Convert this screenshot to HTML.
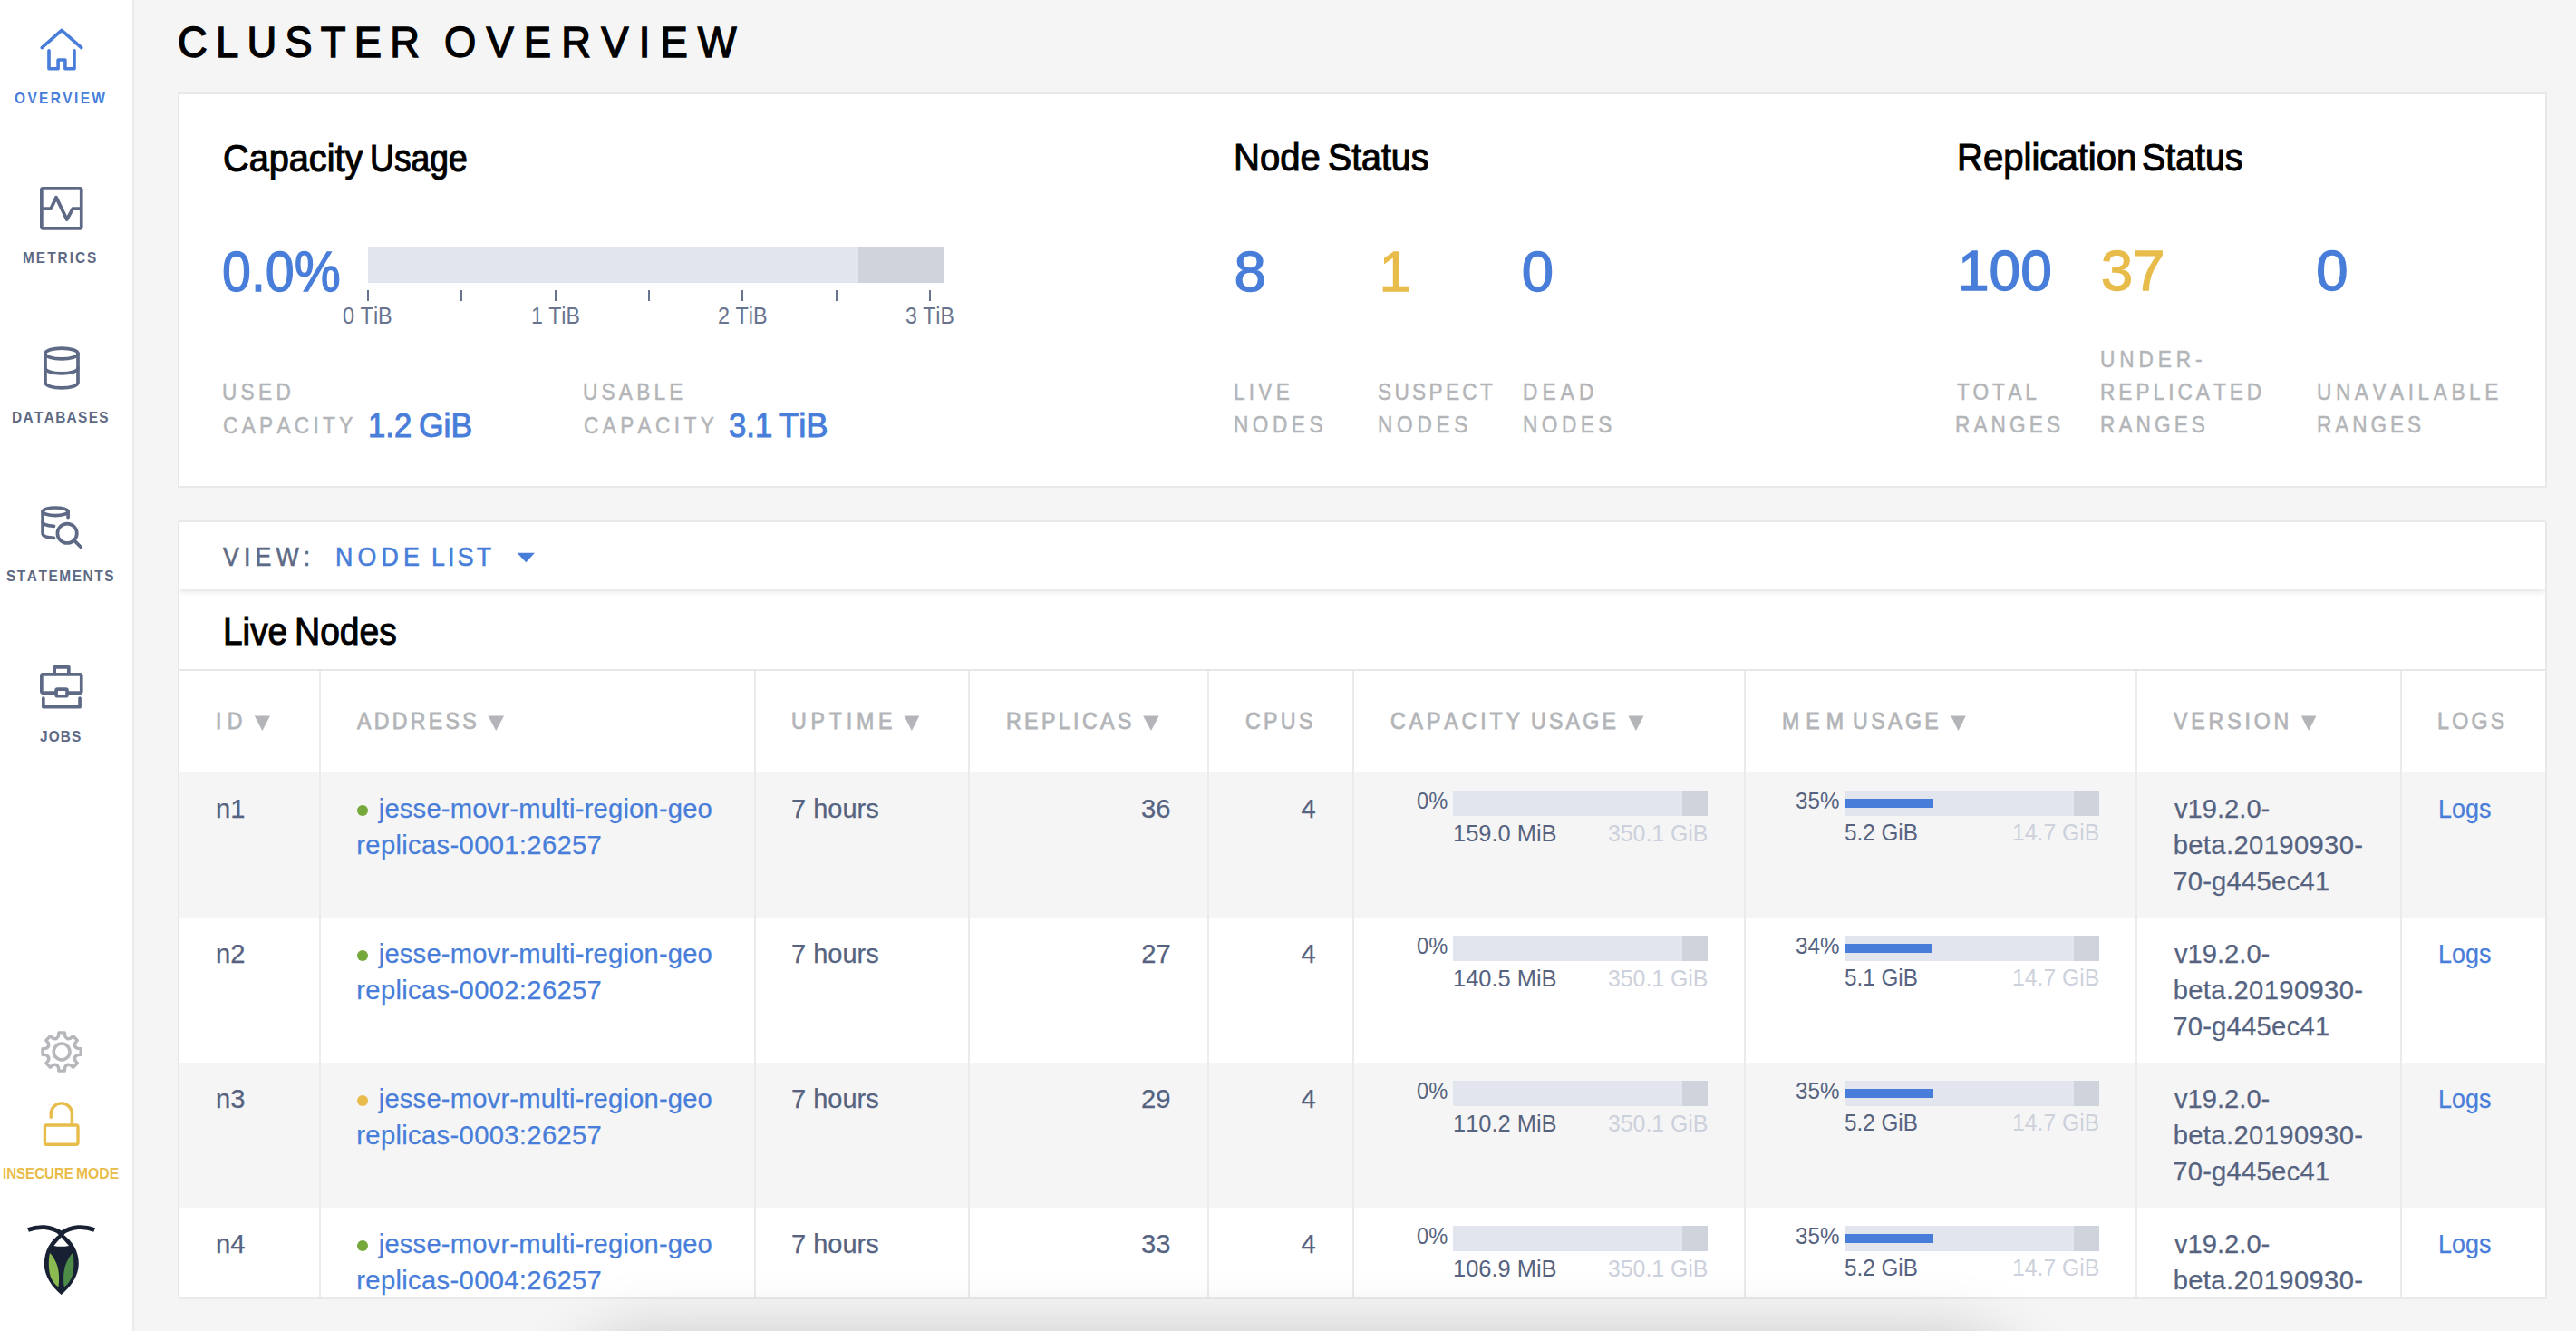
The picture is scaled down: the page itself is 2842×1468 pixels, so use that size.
<!DOCTYPE html><html><head><meta charset="utf-8"><title>Cluster Overview</title><style>
*{margin:0;padding:0;box-sizing:border-box}
html,body{width:2842px;height:1468px;overflow:hidden;background:#f5f5f5}
body{position:relative;font-family:"Liberation Sans",sans-serif;font-kerning:none;font-variant-ligatures:none}
.t{position:absolute;white-space:pre}
.r{position:absolute}
svg{position:absolute;left:0;top:0}
</style></head><body>
<div class="r" style="left:0px;top:0px;width:146px;height:1468px;background:#ffffff;"></div>
<div class="r" style="left:146px;top:0px;width:2px;height:1468px;background:#ebebeb;"></div>
<div class="r" style="left:196px;top:102px;width:2614px;height:436px;background:#fff;border:2px solid #e8e8e8"></div>
<div class="r" style="left:196px;top:574px;width:2614px;height:859px;background:#fff;border:2px solid #e8e8e8;border-radius:4px;overflow:hidden"></div>
<div class="r" style="left:198px;top:576px;width:2610px;height:160px;overflow:hidden"><div class="r" style="left:0;top:0;width:2610px;height:74px;background:#fff;box-shadow:0 2px 7px rgba(0,0,0,0.13)"></div></div>
<div class="r" style="left:198px;top:738px;width:2610px;height:2px;background:#e7e7e7;"></div>
<div class="r" style="left:198px;top:852px;width:2610px;height:160px;background:#f5f5f5;"></div>
<div class="r" style="left:198px;top:1012px;width:2610px;height:160px;background:#ffffff;"></div>
<div class="r" style="left:198px;top:1172px;width:2610px;height:160px;background:#f5f5f5;"></div>
<div class="r" style="left:198px;top:1332px;width:2610px;height:99px;background:#ffffff;"></div>
<div class="r" style="left:352px;top:740px;width:2px;height:691px;background:#ebebeb;"></div>
<div class="r" style="left:832px;top:740px;width:2px;height:691px;background:#ebebeb;"></div>
<div class="r" style="left:1068px;top:740px;width:2px;height:691px;background:#ebebeb;"></div>
<div class="r" style="left:1332px;top:740px;width:2px;height:691px;background:#ebebeb;"></div>
<div class="r" style="left:1492px;top:740px;width:2px;height:691px;background:#ebebeb;"></div>
<div class="r" style="left:1924px;top:740px;width:2px;height:691px;background:#ebebeb;"></div>
<div class="r" style="left:2356px;top:740px;width:2px;height:691px;background:#ebebeb;"></div>
<div class="r" style="left:2648px;top:740px;width:2px;height:691px;background:#ebebeb;"></div>
<div class="t" style="left:15.97px;top:98.20px;font-size:17.15px;line-height:21px;letter-spacing:2.659px;color:#487ed9;font-weight:700;transform:scaleX(0.9000);transform-origin:0 0;">OVERVIEW</div>
<div class="t" style="left:25.37px;top:273.50px;font-size:17.15px;line-height:21px;letter-spacing:2.217px;color:#5e6a85;font-weight:700;transform:scaleX(0.9000);transform-origin:0 0;">METRICS</div>
<div class="t" style="left:12.97px;top:449.50px;font-size:17.15px;line-height:21px;letter-spacing:1.470px;color:#5e6a85;font-weight:700;transform:scaleX(0.9000);transform-origin:0 0;">DATABASES</div>
<div class="t" style="left:6.86px;top:625.30px;font-size:17.15px;line-height:21px;letter-spacing:1.719px;color:#5e6a85;font-weight:700;transform:scaleX(0.9000);transform-origin:0 0;">STATEMENTS</div>
<div class="t" style="left:43.57px;top:801.50px;font-size:17.15px;line-height:21px;letter-spacing:1.260px;color:#5e6a85;font-weight:700;transform:scaleX(0.9000);transform-origin:0 0;">JOBS</div>
<div class="t" style="left:2.59px;top:1285.00px;font-size:15.99px;line-height:20px;letter-spacing:0.000px;color:#e8bc4a;font-weight:700;transform:scaleX(0.9428);transform-origin:0 0;">INSECURE</div>
<div class="t" style="left:84.25px;top:1285.00px;font-size:15.99px;line-height:20px;letter-spacing:0.000px;color:#e8bc4a;font-weight:700;transform:scaleX(0.9833);transform-origin:0 0;">MODE</div>
<div class="t" style="left:195.79px;top:17.40px;font-size:48.84px;line-height:59px;letter-spacing:9.861px;color:#000;-webkit-text-stroke:1.4px #000;transform:scaleX(0.9300);transform-origin:0 0;">CLUSTER</div>
<div class="t" style="left:490.45px;top:17.40px;font-size:48.84px;line-height:59px;letter-spacing:11.969px;color:#000;-webkit-text-stroke:1.4px #000;transform:scaleX(0.9300);transform-origin:0 0;">OVERVIEW</div>
<div class="t" style="left:245.73px;top:148.65px;font-size:42.00px;line-height:51px;letter-spacing:0.000px;color:#000;-webkit-text-stroke:1.1px #000;transform:scaleX(0.9448);transform-origin:0 0;">Capacity</div>
<div class="t" style="left:407.97px;top:148.65px;font-size:42.00px;line-height:51px;letter-spacing:0.000px;color:#000;-webkit-text-stroke:1.1px #000;transform:scaleX(0.8882);transform-origin:0 0;">Usage</div>
<div class="t" style="left:1361.27px;top:148.35px;font-size:42.00px;line-height:51px;letter-spacing:0.000px;color:#000;-webkit-text-stroke:1.1px #000;transform:scaleX(0.9527);transform-origin:0 0;">Node</div>
<div class="t" style="left:1464.97px;top:148.35px;font-size:42.00px;line-height:51px;letter-spacing:0.000px;color:#000;-webkit-text-stroke:1.1px #000;transform:scaleX(0.9348);transform-origin:0 0;">Status</div>
<div class="t" style="left:2158.56px;top:148.45px;font-size:42.00px;line-height:51px;letter-spacing:0.000px;color:#000;-webkit-text-stroke:1.1px #000;transform:scaleX(0.9543);transform-origin:0 0;">Replication</div>
<div class="t" style="left:2363.27px;top:148.45px;font-size:42.00px;line-height:51px;letter-spacing:0.000px;color:#000;-webkit-text-stroke:1.1px #000;transform:scaleX(0.9356);transform-origin:0 0;">Status</div>
<div class="t" style="left:244.81px;top:259.85px;font-size:63.52px;line-height:77px;letter-spacing:0.000px;color:#487ed9;-webkit-text-stroke:1.3px #487ed9;transform:scaleX(0.9034);transform-origin:0 0;">0.0%</div>
<div class="t" style="left:1361.49px;top:259.65px;font-size:63.52px;line-height:77px;letter-spacing:0.000px;color:#487ed9;-webkit-text-stroke:1.3px #487ed9;">8</div>
<div class="t" style="left:1521.41px;top:259.65px;font-size:63.52px;line-height:77px;letter-spacing:0.000px;color:#e8bc4a;-webkit-text-stroke:1.3px #e8bc4a;">1</div>
<div class="t" style="left:1678.87px;top:259.65px;font-size:63.52px;line-height:77px;letter-spacing:0.000px;color:#487ed9;-webkit-text-stroke:1.3px #487ed9;">0</div>
<div class="t" style="left:2159.51px;top:259.45px;font-size:63.52px;line-height:77px;letter-spacing:0.000px;color:#487ed9;-webkit-text-stroke:1.3px #487ed9;transform:scaleX(0.9802);transform-origin:0 0;">100</div>
<div class="t" style="left:2318.04px;top:259.45px;font-size:63.52px;line-height:77px;letter-spacing:0.000px;color:#e8bc4a;-webkit-text-stroke:1.3px #e8bc4a;transform:scaleX(0.9948);transform-origin:0 0;">37</div>
<div class="t" style="left:2555.37px;top:259.45px;font-size:63.52px;line-height:77px;letter-spacing:0.000px;color:#487ed9;-webkit-text-stroke:1.3px #487ed9;">0</div>
<div class="t" style="left:245.30px;top:417.35px;font-size:25.15px;line-height:31px;letter-spacing:4.760px;color:#b3b5b8;-webkit-text-stroke:0.5px #b3b5b8;transform:scaleX(0.9000);transform-origin:0 0;">USED</div>
<div class="t" style="left:245.90px;top:453.55px;font-size:25.15px;line-height:31px;letter-spacing:4.773px;color:#b3b5b8;-webkit-text-stroke:0.5px #b3b5b8;transform:scaleX(0.9000);transform-origin:0 0;">CAPACITY</div>
<div class="t" style="left:406.36px;top:446.60px;font-size:37.06px;line-height:45px;letter-spacing:0.000px;color:#487ed9;-webkit-text-stroke:1.0px #487ed9;transform:scaleX(0.9352);transform-origin:0 0;">1.2</div>
<div class="t" style="left:461.52px;top:446.60px;font-size:37.06px;line-height:45px;letter-spacing:0.000px;color:#487ed9;-webkit-text-stroke:1.0px #487ed9;transform:scaleX(0.9574);transform-origin:0 0;">GiB</div>
<div class="t" style="left:643.40px;top:417.35px;font-size:25.15px;line-height:31px;letter-spacing:4.669px;color:#b3b5b8;-webkit-text-stroke:0.5px #b3b5b8;transform:scaleX(0.9000);transform-origin:0 0;">USABLE</div>
<div class="t" style="left:644.00px;top:453.55px;font-size:25.15px;line-height:31px;letter-spacing:4.852px;color:#b3b5b8;-webkit-text-stroke:0.5px #b3b5b8;transform:scaleX(0.9000);transform-origin:0 0;">CAPACITY</div>
<div class="t" style="left:804.38px;top:446.60px;font-size:37.06px;line-height:45px;letter-spacing:0.000px;color:#487ed9;-webkit-text-stroke:1.0px #487ed9;transform:scaleX(0.9358);transform-origin:0 0;">3.1</div>
<div class="t" style="left:859.28px;top:446.60px;font-size:37.06px;line-height:45px;letter-spacing:0.000px;color:#487ed9;-webkit-text-stroke:1.0px #487ed9;transform:scaleX(0.9828);transform-origin:0 0;">TiB</div>
<div class="t" style="left:1361.49px;top:417.25px;font-size:25.15px;line-height:31px;letter-spacing:4.691px;color:#b3b5b8;-webkit-text-stroke:0.5px #b3b5b8;transform:scaleX(0.9000);transform-origin:0 0;">LIVE</div>
<div class="t" style="left:1361.49px;top:453.25px;font-size:25.15px;line-height:31px;letter-spacing:5.005px;color:#b3b5b8;-webkit-text-stroke:0.5px #b3b5b8;transform:scaleX(0.9000);transform-origin:0 0;">NODES</div>
<div class="t" style="left:1520.42px;top:417.25px;font-size:25.15px;line-height:31px;letter-spacing:3.696px;color:#b3b5b8;-webkit-text-stroke:0.5px #b3b5b8;transform:scaleX(0.9000);transform-origin:0 0;">SUSPECT</div>
<div class="t" style="left:1519.59px;top:453.25px;font-size:25.15px;line-height:31px;letter-spacing:5.255px;color:#b3b5b8;-webkit-text-stroke:0.5px #b3b5b8;transform:scaleX(0.9000);transform-origin:0 0;">NODES</div>
<div class="t" style="left:1680.39px;top:417.25px;font-size:25.15px;line-height:31px;letter-spacing:5.764px;color:#b3b5b8;-webkit-text-stroke:0.5px #b3b5b8;transform:scaleX(0.9000);transform-origin:0 0;">DEAD</div>
<div class="t" style="left:1680.39px;top:453.25px;font-size:25.15px;line-height:31px;letter-spacing:4.977px;color:#b3b5b8;-webkit-text-stroke:0.5px #b3b5b8;transform:scaleX(0.9000);transform-origin:0 0;">NODES</div>
<div class="t" style="left:2158.54px;top:417.25px;font-size:25.15px;line-height:31px;letter-spacing:4.147px;color:#b3b5b8;-webkit-text-stroke:0.5px #b3b5b8;transform:scaleX(0.9000);transform-origin:0 0;">TOTAL</div>
<div class="t" style="left:2157.19px;top:453.25px;font-size:25.15px;line-height:31px;letter-spacing:4.538px;color:#b3b5b8;-webkit-text-stroke:0.5px #b3b5b8;transform:scaleX(0.9000);transform-origin:0 0;">RANGES</div>
<div class="t" style="left:2317.10px;top:381.35px;font-size:25.15px;line-height:31px;letter-spacing:5.433px;color:#b3b5b8;-webkit-text-stroke:0.5px #b3b5b8;transform:scaleX(0.9000);transform-origin:0 0;">UNDER-</div>
<div class="t" style="left:2316.99px;top:417.25px;font-size:25.15px;line-height:31px;letter-spacing:4.461px;color:#b3b5b8;-webkit-text-stroke:0.5px #b3b5b8;transform:scaleX(0.9000);transform-origin:0 0;">REPLICATED</div>
<div class="t" style="left:2316.99px;top:453.25px;font-size:25.15px;line-height:31px;letter-spacing:4.516px;color:#b3b5b8;-webkit-text-stroke:0.5px #b3b5b8;transform:scaleX(0.9000);transform-origin:0 0;">RANGES</div>
<div class="t" style="left:2556.00px;top:417.25px;font-size:25.15px;line-height:31px;letter-spacing:5.067px;color:#b3b5b8;-webkit-text-stroke:0.5px #b3b5b8;transform:scaleX(0.9000);transform-origin:0 0;">UNAVAILABLE</div>
<div class="t" style="left:2555.89px;top:453.25px;font-size:25.15px;line-height:31px;letter-spacing:4.360px;color:#b3b5b8;-webkit-text-stroke:0.5px #b3b5b8;transform:scaleX(0.9000);transform-origin:0 0;">RANGES</div>
<div class="r" style="left:406px;top:272px;width:541px;height:40px;background:#e2e5ee;"></div>
<div class="r" style="left:947px;top:272px;width:95px;height:40px;background:#cfd3dc;"></div>
<div class="r" style="left:405.0px;top:320px;width:2px;height:12px;background:#68738f"></div>
<div class="r" style="left:508.3px;top:320px;width:2px;height:12px;background:#68738f"></div>
<div class="r" style="left:611.6px;top:320px;width:2px;height:12px;background:#68738f"></div>
<div class="r" style="left:715.0px;top:320px;width:2px;height:12px;background:#68738f"></div>
<div class="r" style="left:818.2px;top:320px;width:2px;height:12px;background:#68738f"></div>
<div class="r" style="left:921.5px;top:320px;width:2px;height:12px;background:#68738f"></div>
<div class="r" style="left:1024.8px;top:320px;width:2px;height:12px;background:#68738f"></div>
<div class="t" style="left:378.28px;top:332.60px;font-size:25.58px;line-height:31px;letter-spacing:0.000px;color:#68738f;transform:scaleX(0.9170);transform-origin:0 0;">0 TiB</div>
<div class="t" style="left:585.64px;top:332.60px;font-size:25.58px;line-height:31px;letter-spacing:0.000px;color:#68738f;transform:scaleX(0.9023);transform-origin:0 0;">1 TiB</div>
<div class="t" style="left:791.82px;top:332.60px;font-size:25.58px;line-height:31px;letter-spacing:0.000px;color:#68738f;transform:scaleX(0.9147);transform-origin:0 0;">2 TiB</div>
<div class="t" style="left:999.22px;top:332.60px;font-size:25.58px;line-height:31px;letter-spacing:0.000px;color:#68738f;transform:scaleX(0.9027);transform-origin:0 0;">3 TiB</div>
<div class="t" style="left:246.08px;top:596.50px;font-size:29.07px;line-height:35px;letter-spacing:5.565px;color:#5e6a85;-webkit-text-stroke:0.6px #5e6a85;transform:scaleX(0.9200);transform-origin:0 0;">VIEW:</div>
<div class="t" style="left:369.81px;top:596.50px;font-size:29.07px;line-height:35px;letter-spacing:5.607px;color:#487ed9;-webkit-text-stroke:0.6px #487ed9;transform:scaleX(0.9200);transform-origin:0 0;">NODE</div>
<div class="t" style="left:475.51px;top:596.50px;font-size:29.07px;line-height:35px;letter-spacing:3.452px;color:#487ed9;-webkit-text-stroke:0.6px #487ed9;transform:scaleX(0.9200);transform-origin:0 0;">LIST</div>
<svg width="2842" height="1468" style="pointer-events:none"><path d="M570.5,609.8H590L580.25,620.3Z" fill="#487ed9"/></svg>
<div class="t" style="left:245.87px;top:670.55px;font-size:42.00px;line-height:51px;letter-spacing:0.000px;color:#000;-webkit-text-stroke:1.1px #000;transform:scaleX(0.9228);transform-origin:0 0;">Live</div>
<div class="t" style="left:325.35px;top:670.55px;font-size:42.00px;line-height:51px;letter-spacing:0.000px;color:#000;-webkit-text-stroke:1.1px #000;transform:scaleX(0.9283);transform-origin:0 0;">Nodes</div>
<div class="t" style="left:238.06px;top:779.70px;font-size:25.73px;line-height:31px;letter-spacing:7.101px;color:#b3b5b8;-webkit-text-stroke:0.8px #b3b5b8;transform:scaleX(0.9000);transform-origin:0 0;">ID</div>
<div class="t" style="left:393.85px;top:779.70px;font-size:25.73px;line-height:31px;letter-spacing:3.680px;color:#b3b5b8;-webkit-text-stroke:0.8px #b3b5b8;transform:scaleX(0.9000);transform-origin:0 0;">ADDRESS</div>
<div class="t" style="left:873.11px;top:779.70px;font-size:25.73px;line-height:31px;letter-spacing:5.335px;color:#b3b5b8;-webkit-text-stroke:0.8px #b3b5b8;transform:scaleX(0.9000);transform-origin:0 0;">UPTIME</div>
<div class="t" style="left:1109.50px;top:779.70px;font-size:25.73px;line-height:31px;letter-spacing:3.783px;color:#b3b5b8;-webkit-text-stroke:0.8px #b3b5b8;transform:scaleX(0.9000);transform-origin:0 0;">REPLICAS</div>
<div class="t" style="left:1373.92px;top:779.70px;font-size:25.73px;line-height:31px;letter-spacing:3.707px;color:#b3b5b8;-webkit-text-stroke:0.8px #b3b5b8;transform:scaleX(0.9000);transform-origin:0 0;">CPUS</div>
<div class="t" style="left:1533.52px;top:779.70px;font-size:25.73px;line-height:31px;letter-spacing:4.316px;color:#b3b5b8;-webkit-text-stroke:0.8px #b3b5b8;transform:scaleX(0.9000);transform-origin:0 0;">CAPACITY</div>
<div class="t" style="left:1689.01px;top:779.70px;font-size:25.73px;line-height:31px;letter-spacing:3.589px;color:#b3b5b8;-webkit-text-stroke:0.8px #b3b5b8;transform:scaleX(0.9000);transform-origin:0 0;">USAGE</div>
<div class="t" style="left:1965.50px;top:779.70px;font-size:25.73px;line-height:31px;letter-spacing:7.767px;color:#b3b5b8;-webkit-text-stroke:0.8px #b3b5b8;transform:scaleX(0.9000);transform-origin:0 0;">MEM</div>
<div class="t" style="left:2044.21px;top:779.70px;font-size:25.73px;line-height:31px;letter-spacing:3.811px;color:#b3b5b8;-webkit-text-stroke:0.8px #b3b5b8;transform:scaleX(0.9000);transform-origin:0 0;">USAGE</div>
<div class="t" style="left:2398.40px;top:779.70px;font-size:25.73px;line-height:31px;letter-spacing:4.273px;color:#b3b5b8;-webkit-text-stroke:0.8px #b3b5b8;transform:scaleX(0.9000);transform-origin:0 0;">VERSION</div>
<div class="t" style="left:2689.30px;top:779.70px;font-size:25.73px;line-height:31px;letter-spacing:3.675px;color:#b3b5b8;-webkit-text-stroke:0.8px #b3b5b8;transform:scaleX(0.9000);transform-origin:0 0;">LOGS</div>
<svg width="2842" height="1468"><path d="M280.8,789.4H298L289.40,806ZM538.5,789.4H556L547.25,806ZM997.5,789.4H1014.3L1005.90,806ZM1261.2,789.4H1278.7L1269.95,806ZM1796.4,789.4H1813.4L1804.90,806ZM2152.3,789.4H2168.8L2160.55,806ZM2538.8,789.4H2555.4L2547.10,806Z" fill="#b3b5b8"/></svg>
<div class="t" style="left:238.09px;top:873.88px;font-size:29.20px;line-height:36px;letter-spacing:0.000px;color:#566380;-webkit-text-stroke:0.25px #566380;">n1</div>
<div class="r" style="left:394px;top:887.6px;width:12px;height:12px;border-radius:50%;background:#76a83b"></div>
<div class="t" style="left:417.74px;top:873.88px;font-size:29.20px;line-height:36px;letter-spacing:0.184px;color:#487ed9;-webkit-text-stroke:0.25px #487ed9;">jesse-movr-multi-region-geo</div>
<div class="t" style="left:393.29px;top:913.88px;font-size:29.20px;line-height:36px;letter-spacing:0.336px;color:#487ed9;-webkit-text-stroke:0.25px #487ed9;">replicas-0001:26257</div>
<div class="t" style="left:873.14px;top:873.88px;font-size:29.20px;line-height:36px;letter-spacing:0.000px;color:#566380;-webkit-text-stroke:0.25px #566380;transform:scaleX(0.9927);transform-origin:0 0;">7 hours</div>
<div class="t" style="left:1258.98px;top:873.88px;font-size:29.20px;line-height:36px;letter-spacing:0.000px;color:#566380;-webkit-text-stroke:0.25px #566380;">36</div>
<div class="t" style="left:1435.39px;top:873.88px;font-size:29.20px;line-height:36px;letter-spacing:0.000px;color:#566380;-webkit-text-stroke:0.25px #566380;">4</div>
<div class="t" style="left:1562.58px;top:867.00px;font-size:25.90px;line-height:32px;letter-spacing:0.000px;color:#566380;transform:scaleX(0.9127);transform-origin:0 0;">0%</div>
<div class="r" style="left:1603px;top:872px;width:253px;height:28px;background:#e2e5ee;"></div>
<div class="r" style="left:1856px;top:872px;width:28px;height:28px;background:#cfd3dc;"></div>
<div class="t" style="left:1602.66px;top:902.80px;font-size:25.90px;line-height:32px;letter-spacing:0.000px;color:#566380;transform:scaleX(0.9830);transform-origin:0 0;">159.0 MiB</div>
<div class="t" style="left:1773.85px;top:902.80px;font-size:25.90px;line-height:32px;letter-spacing:0.000px;color:#cdd1dc;transform:scaleX(0.9589);transform-origin:0 0;">350.1 GiB</div>
<div class="t" style="left:1980.58px;top:867.00px;font-size:25.90px;line-height:32px;letter-spacing:0.000px;color:#566380;transform:scaleX(0.9333);transform-origin:0 0;">35%</div>
<div class="r" style="left:2035px;top:872px;width:253px;height:28px;background:#e2e5ee;"></div>
<div class="r" style="left:2288px;top:872px;width:28px;height:28px;background:#cfd3dc;"></div>
<div class="r" style="left:2035px;top:881px;width:98px;height:10px;background:#487ed9;"></div>
<div class="t" style="left:2034.93px;top:902.30px;font-size:25.90px;line-height:32px;letter-spacing:0.000px;color:#566380;transform:scaleX(0.9360);transform-origin:0 0;">5.2 GiB</div>
<div class="t" style="left:2220.31px;top:902.30px;font-size:25.90px;line-height:32px;letter-spacing:0.000px;color:#cdd1dc;transform:scaleX(0.9565);transform-origin:0 0;">14.7 GiB</div>
<div class="t" style="left:2398.53px;top:873.88px;font-size:29.20px;line-height:36px;letter-spacing:0.000px;color:#566380;-webkit-text-stroke:0.25px #566380;transform:scaleX(0.9985);transform-origin:0 0;">v19.2.0-</div>
<div class="t" style="left:2397.64px;top:913.88px;font-size:29.20px;line-height:36px;letter-spacing:0.380px;color:#566380;-webkit-text-stroke:0.25px #566380;">beta.20190930-</div>
<div class="t" style="left:2397.13px;top:953.88px;font-size:29.20px;line-height:36px;letter-spacing:0.269px;color:#566380;-webkit-text-stroke:0.25px #566380;">70-g445ec41</div>
<div class="t" style="left:2689.71px;top:873.88px;font-size:29.20px;line-height:36px;letter-spacing:0.000px;color:#487ed9;-webkit-text-stroke:0.25px #487ed9;transform:scaleX(0.9229);transform-origin:0 0;">Logs</div>
<div class="t" style="left:238.09px;top:1033.88px;font-size:29.20px;line-height:36px;letter-spacing:0.000px;color:#566380;-webkit-text-stroke:0.25px #566380;">n2</div>
<div class="r" style="left:394px;top:1047.6px;width:12px;height:12px;border-radius:50%;background:#76a83b"></div>
<div class="t" style="left:417.74px;top:1033.88px;font-size:29.20px;line-height:36px;letter-spacing:0.184px;color:#487ed9;-webkit-text-stroke:0.25px #487ed9;">jesse-movr-multi-region-geo</div>
<div class="t" style="left:393.29px;top:1073.88px;font-size:29.20px;line-height:36px;letter-spacing:0.336px;color:#487ed9;-webkit-text-stroke:0.25px #487ed9;">replicas-0002:26257</div>
<div class="t" style="left:873.14px;top:1033.88px;font-size:29.20px;line-height:36px;letter-spacing:0.000px;color:#566380;-webkit-text-stroke:0.25px #566380;transform:scaleX(0.9927);transform-origin:0 0;">7 hours</div>
<div class="t" style="left:1259.16px;top:1033.88px;font-size:29.20px;line-height:36px;letter-spacing:0.000px;color:#566380;-webkit-text-stroke:0.25px #566380;">27</div>
<div class="t" style="left:1435.39px;top:1033.88px;font-size:29.20px;line-height:36px;letter-spacing:0.000px;color:#566380;-webkit-text-stroke:0.25px #566380;">4</div>
<div class="t" style="left:1562.58px;top:1027.00px;font-size:25.90px;line-height:32px;letter-spacing:0.000px;color:#566380;transform:scaleX(0.9127);transform-origin:0 0;">0%</div>
<div class="r" style="left:1603px;top:1032px;width:253px;height:28px;background:#e2e5ee;"></div>
<div class="r" style="left:1856px;top:1032px;width:28px;height:28px;background:#cfd3dc;"></div>
<div class="t" style="left:1602.66px;top:1062.80px;font-size:25.90px;line-height:32px;letter-spacing:0.000px;color:#566380;transform:scaleX(0.9830);transform-origin:0 0;">140.5 MiB</div>
<div class="t" style="left:1773.85px;top:1062.80px;font-size:25.90px;line-height:32px;letter-spacing:0.000px;color:#cdd1dc;transform:scaleX(0.9589);transform-origin:0 0;">350.1 GiB</div>
<div class="t" style="left:1980.58px;top:1027.00px;font-size:25.90px;line-height:32px;letter-spacing:0.000px;color:#566380;transform:scaleX(0.9333);transform-origin:0 0;">34%</div>
<div class="r" style="left:2035px;top:1032px;width:253px;height:28px;background:#e2e5ee;"></div>
<div class="r" style="left:2288px;top:1032px;width:28px;height:28px;background:#cfd3dc;"></div>
<div class="r" style="left:2035px;top:1041px;width:96px;height:10px;background:#487ed9;"></div>
<div class="t" style="left:2034.93px;top:1062.30px;font-size:25.90px;line-height:32px;letter-spacing:0.000px;color:#566380;transform:scaleX(0.9360);transform-origin:0 0;">5.1 GiB</div>
<div class="t" style="left:2220.31px;top:1062.30px;font-size:25.90px;line-height:32px;letter-spacing:0.000px;color:#cdd1dc;transform:scaleX(0.9565);transform-origin:0 0;">14.7 GiB</div>
<div class="t" style="left:2398.53px;top:1033.88px;font-size:29.20px;line-height:36px;letter-spacing:0.000px;color:#566380;-webkit-text-stroke:0.25px #566380;transform:scaleX(0.9985);transform-origin:0 0;">v19.2.0-</div>
<div class="t" style="left:2397.64px;top:1073.88px;font-size:29.20px;line-height:36px;letter-spacing:0.380px;color:#566380;-webkit-text-stroke:0.25px #566380;">beta.20190930-</div>
<div class="t" style="left:2397.13px;top:1113.88px;font-size:29.20px;line-height:36px;letter-spacing:0.269px;color:#566380;-webkit-text-stroke:0.25px #566380;">70-g445ec41</div>
<div class="t" style="left:2689.71px;top:1033.88px;font-size:29.20px;line-height:36px;letter-spacing:0.000px;color:#487ed9;-webkit-text-stroke:0.25px #487ed9;transform:scaleX(0.9229);transform-origin:0 0;">Logs</div>
<div class="t" style="left:238.09px;top:1193.88px;font-size:29.20px;line-height:36px;letter-spacing:0.000px;color:#566380;-webkit-text-stroke:0.25px #566380;">n3</div>
<div class="r" style="left:394px;top:1207.6px;width:12px;height:12px;border-radius:50%;background:#e8bc4a"></div>
<div class="t" style="left:417.74px;top:1193.88px;font-size:29.20px;line-height:36px;letter-spacing:0.184px;color:#487ed9;-webkit-text-stroke:0.25px #487ed9;">jesse-movr-multi-region-geo</div>
<div class="t" style="left:393.29px;top:1233.88px;font-size:29.20px;line-height:36px;letter-spacing:0.336px;color:#487ed9;-webkit-text-stroke:0.25px #487ed9;">replicas-0003:26257</div>
<div class="t" style="left:873.14px;top:1193.88px;font-size:29.20px;line-height:36px;letter-spacing:0.000px;color:#566380;-webkit-text-stroke:0.25px #566380;transform:scaleX(0.9927);transform-origin:0 0;">7 hours</div>
<div class="t" style="left:1259.08px;top:1193.88px;font-size:29.20px;line-height:36px;letter-spacing:0.000px;color:#566380;-webkit-text-stroke:0.25px #566380;">29</div>
<div class="t" style="left:1435.39px;top:1193.88px;font-size:29.20px;line-height:36px;letter-spacing:0.000px;color:#566380;-webkit-text-stroke:0.25px #566380;">4</div>
<div class="t" style="left:1562.58px;top:1187.00px;font-size:25.90px;line-height:32px;letter-spacing:0.000px;color:#566380;transform:scaleX(0.9127);transform-origin:0 0;">0%</div>
<div class="r" style="left:1603px;top:1192px;width:253px;height:28px;background:#e2e5ee;"></div>
<div class="r" style="left:1856px;top:1192px;width:28px;height:28px;background:#cfd3dc;"></div>
<div class="t" style="left:1602.66px;top:1222.80px;font-size:25.90px;line-height:32px;letter-spacing:0.000px;color:#566380;transform:scaleX(0.9830);transform-origin:0 0;">110.2 MiB</div>
<div class="t" style="left:1773.85px;top:1222.80px;font-size:25.90px;line-height:32px;letter-spacing:0.000px;color:#cdd1dc;transform:scaleX(0.9589);transform-origin:0 0;">350.1 GiB</div>
<div class="t" style="left:1980.58px;top:1187.00px;font-size:25.90px;line-height:32px;letter-spacing:0.000px;color:#566380;transform:scaleX(0.9333);transform-origin:0 0;">35%</div>
<div class="r" style="left:2035px;top:1192px;width:253px;height:28px;background:#e2e5ee;"></div>
<div class="r" style="left:2288px;top:1192px;width:28px;height:28px;background:#cfd3dc;"></div>
<div class="r" style="left:2035px;top:1201px;width:98px;height:10px;background:#487ed9;"></div>
<div class="t" style="left:2034.93px;top:1222.30px;font-size:25.90px;line-height:32px;letter-spacing:0.000px;color:#566380;transform:scaleX(0.9360);transform-origin:0 0;">5.2 GiB</div>
<div class="t" style="left:2220.31px;top:1222.30px;font-size:25.90px;line-height:32px;letter-spacing:0.000px;color:#cdd1dc;transform:scaleX(0.9565);transform-origin:0 0;">14.7 GiB</div>
<div class="t" style="left:2398.53px;top:1193.88px;font-size:29.20px;line-height:36px;letter-spacing:0.000px;color:#566380;-webkit-text-stroke:0.25px #566380;transform:scaleX(0.9985);transform-origin:0 0;">v19.2.0-</div>
<div class="t" style="left:2397.64px;top:1233.88px;font-size:29.20px;line-height:36px;letter-spacing:0.380px;color:#566380;-webkit-text-stroke:0.25px #566380;">beta.20190930-</div>
<div class="t" style="left:2397.13px;top:1273.88px;font-size:29.20px;line-height:36px;letter-spacing:0.269px;color:#566380;-webkit-text-stroke:0.25px #566380;">70-g445ec41</div>
<div class="t" style="left:2689.71px;top:1193.88px;font-size:29.20px;line-height:36px;letter-spacing:0.000px;color:#487ed9;-webkit-text-stroke:0.25px #487ed9;transform:scaleX(0.9229);transform-origin:0 0;">Logs</div>
<div class="t" style="left:238.09px;top:1353.88px;font-size:29.20px;line-height:36px;letter-spacing:0.000px;color:#566380;-webkit-text-stroke:0.25px #566380;">n4</div>
<div class="r" style="left:394px;top:1367.6px;width:12px;height:12px;border-radius:50%;background:#76a83b"></div>
<div class="t" style="left:417.74px;top:1353.88px;font-size:29.20px;line-height:36px;letter-spacing:0.184px;color:#487ed9;-webkit-text-stroke:0.25px #487ed9;">jesse-movr-multi-region-geo</div>
<div class="t" style="left:393.29px;top:1393.88px;font-size:29.20px;line-height:36px;letter-spacing:0.336px;color:#487ed9;-webkit-text-stroke:0.25px #487ed9;">replicas-0004:26257</div>
<div class="t" style="left:873.14px;top:1353.88px;font-size:29.20px;line-height:36px;letter-spacing:0.000px;color:#566380;-webkit-text-stroke:0.25px #566380;transform:scaleX(0.9927);transform-origin:0 0;">7 hours</div>
<div class="t" style="left:1258.98px;top:1353.88px;font-size:29.20px;line-height:36px;letter-spacing:0.000px;color:#566380;-webkit-text-stroke:0.25px #566380;">33</div>
<div class="t" style="left:1435.39px;top:1353.88px;font-size:29.20px;line-height:36px;letter-spacing:0.000px;color:#566380;-webkit-text-stroke:0.25px #566380;">4</div>
<div class="t" style="left:1562.58px;top:1347.00px;font-size:25.90px;line-height:32px;letter-spacing:0.000px;color:#566380;transform:scaleX(0.9127);transform-origin:0 0;">0%</div>
<div class="r" style="left:1603px;top:1352px;width:253px;height:28px;background:#e2e5ee;"></div>
<div class="r" style="left:1856px;top:1352px;width:28px;height:28px;background:#cfd3dc;"></div>
<div class="t" style="left:1602.66px;top:1382.80px;font-size:25.90px;line-height:32px;letter-spacing:0.000px;color:#566380;transform:scaleX(0.9830);transform-origin:0 0;">106.9 MiB</div>
<div class="t" style="left:1773.85px;top:1382.80px;font-size:25.90px;line-height:32px;letter-spacing:0.000px;color:#cdd1dc;transform:scaleX(0.9589);transform-origin:0 0;">350.1 GiB</div>
<div class="t" style="left:1980.58px;top:1347.00px;font-size:25.90px;line-height:32px;letter-spacing:0.000px;color:#566380;transform:scaleX(0.9333);transform-origin:0 0;">35%</div>
<div class="r" style="left:2035px;top:1352px;width:253px;height:28px;background:#e2e5ee;"></div>
<div class="r" style="left:2288px;top:1352px;width:28px;height:28px;background:#cfd3dc;"></div>
<div class="r" style="left:2035px;top:1361px;width:98px;height:10px;background:#487ed9;"></div>
<div class="t" style="left:2034.93px;top:1382.30px;font-size:25.90px;line-height:32px;letter-spacing:0.000px;color:#566380;transform:scaleX(0.9360);transform-origin:0 0;">5.2 GiB</div>
<div class="t" style="left:2220.31px;top:1382.30px;font-size:25.90px;line-height:32px;letter-spacing:0.000px;color:#cdd1dc;transform:scaleX(0.9565);transform-origin:0 0;">14.7 GiB</div>
<div class="t" style="left:2398.53px;top:1353.88px;font-size:29.20px;line-height:36px;letter-spacing:0.000px;color:#566380;-webkit-text-stroke:0.25px #566380;transform:scaleX(0.9985);transform-origin:0 0;">v19.2.0-</div>
<div class="t" style="left:2397.64px;top:1393.88px;font-size:29.20px;line-height:36px;letter-spacing:0.380px;color:#566380;-webkit-text-stroke:0.25px #566380;">beta.20190930-</div>
<div class="t" style="left:2397.13px;top:1433.88px;font-size:29.20px;line-height:36px;letter-spacing:0.269px;color:#566380;-webkit-text-stroke:0.25px #566380;">70-g445ec41</div>
<div class="t" style="left:2689.71px;top:1353.88px;font-size:29.20px;line-height:36px;letter-spacing:0.000px;color:#487ed9;-webkit-text-stroke:0.25px #487ed9;transform:scaleX(0.9229);transform-origin:0 0;">Logs</div>
<div class="r" style="left:148px;top:1433px;width:2694px;height:35px;background:#f5f5f5"></div>
<div class="r" style="left:196px;top:1431px;width:2614px;height:2px;background:#e9e9e9;border-radius:0 0 3px 3px"></div>
<div class="r" style="left:650px;top:1482px;width:1560px;height:200px;border-radius:40px;box-shadow:0 0 80px 0 rgba(0,0,0,0.24)"></div>
<svg width="148" height="1468" viewBox="0 0 148 1468" fill="none" stroke-linecap="round" stroke-linejoin="round">
<g stroke="#487ed9" stroke-width="3.6">
<path d="M46.2,52.6L68,33.4L89.8,52.6"/>
<path d="M54,55.8V75.8H64.1V66H71.9V75.8H82V55.8"/>
</g>
<g stroke="#5e6a85" stroke-width="3.7">
<rect x="45.85" y="207.95" width="43.9" height="43.9" rx="1.5"/>
<path d="M47.8,230.1H56.2L62,217.6L73.8,242.1L80.2,230.1H87.8"/>
<ellipse cx="68" cy="390" rx="18" ry="5.9"/>
<path d="M50,390V422A18,5.9 0 0 0 86,422V390"/>
<path d="M50,406A18,5.9 0 0 0 86,406"/>
<ellipse cx="61.1" cy="564.3" rx="14" ry="4.3"/>
<path d="M47.1,564.3V588.5Q47.1,592.5 59.5,593.4"/>
<path d="M47.1,575.5Q47.1,579.5 59.5,580.3"/>
<path d="M75.1,564.3V570.6"/>
<circle cx="74.1" cy="588.3" r="10.7"/>
<path d="M82.4,596.6L89,603.2"/>
<path d="M60.15,743.5V735.85H75.85V743.5"/>
<rect x="45.85" y="743.95" width="43.9" height="20.1" rx="1.5"/>
<rect x="62.05" y="760.05" width="12" height="7.7" rx="1.5" fill="#fff"/>
<path d="M47.85,770.2V779.75H88.05V770.2"/>
</g>
<path d="M64.50,1142.60L64.85,1138.90L71.35,1138.90L71.70,1142.60Q73.53,1146.88 77.86,1145.15L80.72,1142.78L85.32,1147.38L82.95,1150.24Q81.22,1154.57 85.50,1156.40L89.20,1156.75L89.20,1163.25L85.50,1163.60Q81.22,1165.43 82.95,1169.76L85.32,1172.62L80.72,1177.22L77.86,1174.85Q73.53,1173.12 71.70,1177.40L71.35,1181.10L64.85,1181.10L64.50,1177.40Q62.67,1173.12 58.34,1174.85L55.48,1177.22L50.88,1172.62L53.25,1169.76Q54.98,1165.43 50.70,1163.60L47.00,1163.25L47.00,1156.75L50.70,1156.40Q54.98,1154.57 53.25,1150.24L50.88,1147.38L55.48,1142.78L58.34,1145.15Q62.67,1146.88 64.50,1142.60Z" stroke="#b5b7ba" stroke-width="3.4"/>
<circle cx="68.1" cy="1160" r="8.9" stroke="#b5b7ba" stroke-width="3.5"/>
<g stroke="#e8bc4a" stroke-width="3.4">
<path d="M56.2,1232.3V1228.5A11.6,11.6 0 0 1 79.4,1228.5V1240.6"/>
<rect x="49.4" y="1241" width="36.6" height="21.3" rx="2"/>
</g>
<g stroke="none">
<path d="M67.6,1360.2C80,1368 86.8,1380 86.8,1394C86.8,1408 77,1420 67.6,1428C58,1420 48.8,1408 48.8,1394C48.8,1380 55,1368 67.6,1360.2Z" fill="#182034"/>
<path d="M67.6,1364.6L59.3,1373.9Q67.6,1375.8 76,1373.9Z" fill="#fff"/>
<path d="M55,1382C53.2,1390 53.4,1402 56,1408.5C58,1413.5 61,1417 64.4,1419.5C65.6,1412 65.2,1402 63.2,1396C61.2,1390 58.2,1385 55,1382Z" fill="#8bbb50"/>
<path d="M80.2,1382C82,1390 81.8,1402 79.2,1408.5C77.2,1413.5 74.2,1417 70.8,1419.5C69.6,1412 70,1402 72,1396C74,1390 77,1385 80.2,1382Z" fill="#4e8a48"/>
</g>
<g stroke="#182034" stroke-width="4.8" stroke-linecap="butt">
<path d="M31,1356.6C42,1352.2 56,1352 67.6,1360.4L70,1362.5"/>
<path d="M104.2,1356.6C93.2,1352.2 79.2,1352 67.6,1360.4L65.2,1362.5"/>
</g>
</svg>
</body></html>
